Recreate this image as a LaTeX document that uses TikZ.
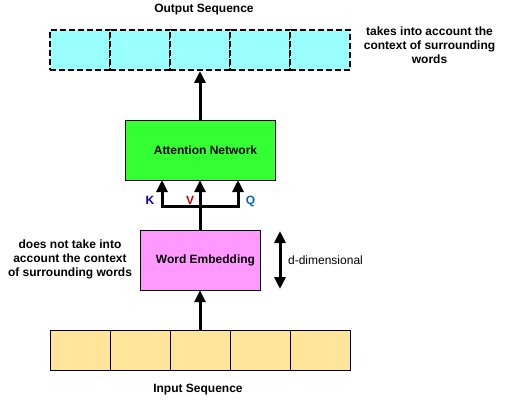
\documentclass[tikz,border=0pt]{standalone}
\usepackage{fontspec}
\setmainfont{Liberation Sans}
\usepackage{xcolor}
\usetikzlibrary{arrows.meta,positioning}

\definecolor{outcell}{HTML}{99FFFF}
\definecolor{incell}{HTML}{FFE599}
\definecolor{attfill}{HTML}{33FF33}
\definecolor{embfill}{HTML}{FF99FF}
\definecolor{kcol}{HTML}{0000CC}
\definecolor{vcol}{HTML}{CC0000}
\definecolor{qcol}{HTML}{0066CC}

\begin{document}
\begin{tikzpicture}[x=1pt,y=-1pt,>={Triangle[length=12pt,width=11pt]},
    txt/.style={font=\fontsize{12}{14}\selectfont\bfseries,align=center},
    plain/.style={font=\fontsize{12}{14}\selectfont},
    cell/.style={draw,minimum width=60pt,minimum height=40pt,inner sep=0pt},
    flow/.style={->,line width=3pt}]
    \useasboundingbox (0,0) rectangle (506,401);
    % output and input sequences
    \foreach \i in {0,...,4} {
      \node[cell,fill=outcell,line width=2pt,dash pattern=on 6pt off 3pt] (out\i) at (80+60*\i,50) {};
      \node[cell,fill=incell] (in\i) at (80+60*\i,350) {};
    }
    \node[txt] (outlbl) at (204,10) {Output Sequence};
    \node[txt] (inlbl) at (198,390) {Input Sequence};
    % blocks
    \node[draw,fill=attfill,minimum width=150pt,minimum height=60pt,inner sep=0pt,
      label={[txt,xshift=5.5pt]center:Attention Network}] (att) at (200,150) {};
    \node[draw,fill=embfill,minimum width=120pt,minimum height=60pt,inner sep=0pt,
      label={[txt,xshift=5.5pt]center:Word Embedding}] (emb) at (200,260) {};
    % K, V, Q split
    \coordinate (bus) at (200,206);
    \coordinate (kin) at (162,180);
    \coordinate (qin) at (238,180);
    \draw[line width=3pt] (emb.north) -- (bus);
    \draw[flow] (bus) -| (kin);
    \draw[flow] (bus) -| (qin);
    \draw[flow] (bus) -- (att.south);
    \node[txt,text=kcol] (klbl) at (150,200) {K};
    \node[txt,text=vcol] (vlbl) at (190,200) {V};
    \node[txt,text=qcol] (qlbl) at (250.5,201) {Q};
    % main flow
    \draw[flow] (in2.north) -- (emb.south);
    \draw[flow] (att.north) -- (out2.south);
    % size marker
    \coordinate (dtop) at (280,231);
    \coordinate (dbot) at (280,289);
    \draw[<->,line width=3pt] (dtop) -- (dbot);
    \node[plain] (dlbl) at (325.5,260) {d-dimensional};
    % notes
    \node[txt] (leftnote) at (70,259.5) {does not take into\\account the context\\of surrounding words};
    \node[txt] (rightnote) at (429.5,45) {takes into account the\\context of surrounding\\words};
\end{tikzpicture}
\end{document}
